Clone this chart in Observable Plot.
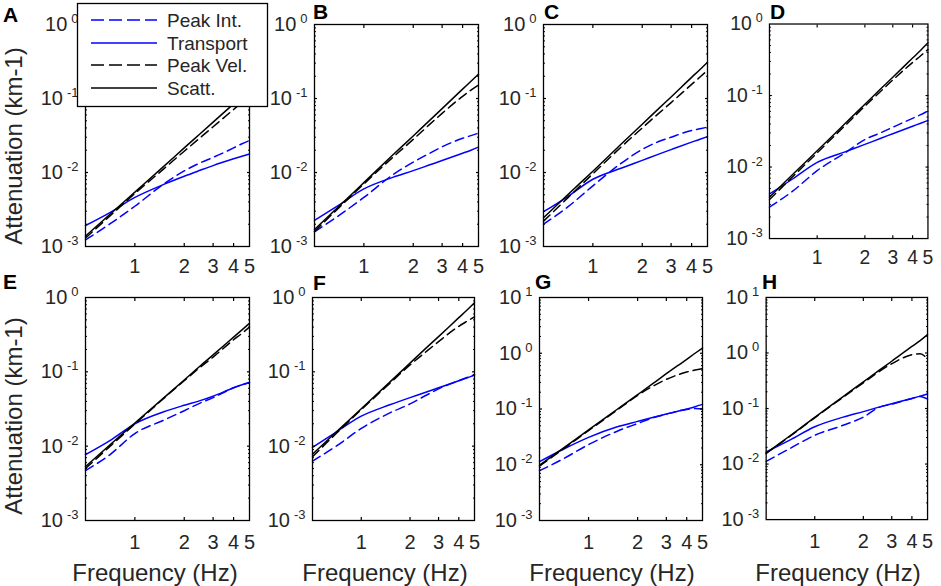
<!DOCTYPE html>
<html><head><meta charset="utf-8">
<script src="https://cdn.jsdelivr.net/npm/d3@7"></script>
<script src="https://cdn.jsdelivr.net/npm/@observablehq/plot@0.6"></script>
<style>
html,body{margin:0;padding:0;background:#fff;overflow:hidden;}
#fig{position:relative;width:941px;height:586px;overflow:hidden;background:#fff;font-family:"Liberation Sans",Arial,sans-serif;}
.panel{position:absolute;}
#overlay{position:absolute;left:0;top:0;z-index:10;pointer-events:none;}
</style></head><body><div id="fig"></div>
<script>
// ---------- data ----------
const freq = [0.5, 0.7, 1, 1.5, 2, 2.5, 3, 4, 4.5, 5];
const panelLabels = ["A","B","C","D","E","F","G","H"];
const seriesNames = ["Peak Int.", "Transport", "Peak Vel.", "Scatt."];
const xTickValues = [1, 2, 3, 4, 5];
const yTopDecade = [1, 1, 1, 1, 1, 1, 10, 10];

const peakInt = [
  [0.00123, 0.0020, 0.0035, 0.0070, 0.0105, 0.0135, 0.0160, 0.0215, 0.0245, 0.0270],
  [0.00158, 0.0026, 0.0046, 0.0093, 0.0138, 0.0180, 0.0222, 0.0290, 0.0315, 0.0340],
  [0.0020, 0.0034, 0.0066, 0.0135, 0.0205, 0.0260, 0.0300, 0.0370, 0.0390, 0.0410],
  [0.00275, 0.0046, 0.0089, 0.0158, 0.0242, 0.0300, 0.0360, 0.0480, 0.0540, 0.0610],
  [0.0047, 0.0076, 0.0148, 0.0224, 0.0300, 0.0380, 0.0450, 0.0610, 0.0670, 0.0720],
  [0.0063, 0.0100, 0.0173, 0.0280, 0.0370, 0.0480, 0.0590, 0.0760, 0.0840, 0.0920],
  [0.0078, 0.0128, 0.0230, 0.0400, 0.0550, 0.0700, 0.0810, 0.0980, 0.1020, 0.1000],
  [0.0112, 0.0190, 0.0330, 0.0500, 0.0700, 0.1050, 0.1200, 0.1520, 0.1650, 0.1480]
];
const transport = [
  [0.00192, 0.00285, 0.0046, 0.0069, 0.0089, 0.0107, 0.0124, 0.0153, 0.0166, 0.0178],
  [0.00225, 0.0036, 0.0060, 0.0086, 0.0106, 0.0126, 0.0145, 0.0182, 0.0200, 0.0220],
  [0.00295, 0.0047, 0.0081, 0.0115, 0.0146, 0.0176, 0.0204, 0.0257, 0.0282, 0.0305],
  [0.0042, 0.0068, 0.0116, 0.0163, 0.0207, 0.0251, 0.0292, 0.0372, 0.0410, 0.0448],
  [0.0077, 0.0118, 0.0200, 0.0290, 0.0355, 0.0410, 0.0470, 0.0610, 0.0670, 0.0720],
  [0.0096, 0.0155, 0.0253, 0.0360, 0.0450, 0.0530, 0.0610, 0.0760, 0.0830, 0.0900],
  [0.0114, 0.0190, 0.0310, 0.0480, 0.0600, 0.0710, 0.0810, 0.1000, 0.1100, 0.1210],
  [0.0165, 0.0270, 0.0470, 0.0700, 0.0880, 0.1060, 0.1220, 0.1520, 0.1670, 0.1830]
];
const peakVel = [
  [0.00130, 0.00255, 0.0052, 0.0112, 0.0194, 0.0295, 0.0415, 0.0710, 0.0880, 0.1050],
  [0.00160, 0.0033, 0.0070, 0.0160, 0.0280, 0.0440, 0.0630, 0.1070, 0.1300, 0.1520],
  [0.0022, 0.0045, 0.0096, 0.0225, 0.0400, 0.0620, 0.0880, 0.1550, 0.1950, 0.2400],
  [0.0035, 0.0073, 0.0158, 0.0380, 0.0710, 0.1130, 0.1650, 0.2900, 0.3600, 0.4400],
  [0.0050, 0.0098, 0.0198, 0.0440, 0.0760, 0.1150, 0.1580, 0.2700, 0.3300, 0.4000],
  [0.0072, 0.0148, 0.0310, 0.0700, 0.1240, 0.1850, 0.2550, 0.4100, 0.4800, 0.5500],
  [0.0095, 0.0192, 0.0410, 0.0960, 0.1760, 0.2600, 0.3400, 0.4600, 0.5000, 0.5300],
  [0.0155, 0.0315, 0.0680, 0.1600, 0.2900, 0.4600, 0.6400, 0.9300, 0.9700, 0.7800]
];
const scatt = [
  [0.00138, 0.00269, 0.00544, 0.0121, 0.0215, 0.0334, 0.0479, 0.0847, 0.107, 0.132],
  [0.00170, 0.00344, 0.0073, 0.0172, 0.0312, 0.0499, 0.0730, 0.134, 0.171, 0.213],
  [0.00245, 0.00497, 0.0104, 0.0246, 0.0449, 0.0719, 0.105, 0.193, 0.246, 0.309],
  [0.0038, 0.00787, 0.0169, 0.0406, 0.0754, 0.122, 0.180, 0.334, 0.430, 0.546],
  [0.0053, 0.0103, 0.0205, 0.0447, 0.0776, 0.120, 0.169, 0.293, 0.367, 0.450],
  [0.0078, 0.0155, 0.0319, 0.0728, 0.131, 0.207, 0.298, 0.536, 0.680, 0.850],
  [0.0098, 0.0198, 0.0424, 0.099, 0.181, 0.290, 0.430, 0.780, 1.00, 1.24],
  [0.0158, 0.0320, 0.0693, 0.164, 0.302, 0.485, 0.710, 1.31, 1.67, 2.14]
];

// ---------- styles & layout ----------
const seriesData = [peakInt, transport, peakVel, scatt];
const seriesColor = ["#0000ff", "#0000ff", "#000000", "#000000"];
const seriesDash = ["9,5", null, "9,5", null];
const FONT = "'Liberation Sans', Arial, sans-serif";
const frames = [
  {l: 85, t: 24, w: 164, h: 222}, {l: 314, t: 24, w: 164, h: 222},
  {l: 543, t: 24, w: 164, h: 222}, {l: 772, t: 24, w: 164, h: 222},
  {l: 85, t: 297, w: 164, h: 223}, {l: 312, t: 297, w: 162, h: 223},
  {l: 539, t: 297, w: 163, h: 223}, {l: 766, t: 297, w: 162, h: 223}
];
const mL = 90, mR = 14, mT = 14, mB = 44;
const fig = document.getElementById("fig");
const svgNS = "http://www.w3.org/2000/svg";

frames.forEach((fr, i) => {
  const rows = [];
  seriesData.forEach((arr, s) => freq.forEach((f, j) => rows.push({f, v: arr[i][j], s})));
  const top = yTopDecade[i];
  const decades = d3.range(-3, Math.round(Math.log10(top)) + 1).map(e => Math.pow(10, e));
  const innerDecades = decades.slice(1, -1);
  const minor = [];
  decades.slice(0, -1).forEach(d => { for (let k = 2; k <= 9; k++) minor.push(d * k); });
  const isBottomRow = i >= 4;
  const marks = [];
  seriesData.forEach((arr, s) => {
    marks.push(Plot.line(rows.filter(d => d.s === s), {
      x: "f", y: "v", stroke: seriesColor[s], strokeWidth: 1.5,
      strokeDasharray: seriesDash[s] || undefined, curve: "monotone-x"
    }));
  });
  const noText = () => "";
  marks.push(
    Plot.axisY({ticks: decades, anchor: "left", tickSize: 0, tickPadding: 7, label: null,
      tickFormat: d => "10^" + Math.round(Math.log10(d)), fontSize: 20, fill: "#262626"}),
    Plot.axisX({ticks: xTickValues, anchor: "bottom", tickSize: 0, tickPadding: isBottomRow ? 14 : 12, label: null,
      tickFormat: d => String(d), fontSize: 20, fill: "#262626"}),
    Plot.axisX({ticks: [1, 2, 3, 4], anchor: "bottom", tickSize: 3, dy: -3, tickFormat: noText, label: null, strokeWidth: 1.2}),
    Plot.axisX({ticks: [1, 2, 3, 4], anchor: "top", tickSize: 3, dy: 3, tickFormat: noText, label: null, strokeWidth: 1.2}),
    Plot.axisY({ticks: innerDecades, anchor: "left", tickSize: 3, dx: 3, tickFormat: noText, label: null, strokeWidth: 1.2}),
    Plot.axisY({ticks: innerDecades, anchor: "right", tickSize: 3, dx: -3, tickFormat: noText, label: null, strokeWidth: 1.2}),
    Plot.axisY({ticks: minor, anchor: "left", tickSize: 2, dx: 2, tickFormat: noText, label: null, strokeWidth: 1}),
    Plot.axisY({ticks: minor, anchor: "right", tickSize: 2, dx: -2, tickFormat: noText, label: null, strokeWidth: 1}),
    Plot.frame({stroke: "#000", strokeWidth: 1.3})
  );
  const chart = Plot.plot({
    width: mL + fr.w + mR, height: mT + fr.h + mB,
    marginLeft: mL, marginRight: mR, marginTop: mT, marginBottom: mB,
    x: {type: "log", domain: [0.5, 5]},
    y: {type: "log", domain: [1e-3, top]},
    style: {background: "transparent", overflow: "visible", fontFamily: FONT, color: "#000"},
    marks
  });
  // superscript exponents for the y tick labels
  chart.querySelectorAll("text").forEach(t => {
    const m = t.textContent.match(/^10\^(-?\d+)$/);
    if (m) {
      t.textContent = "10";
      const ts = document.createElementNS(svgNS, "tspan");
      ts.setAttribute("dx", "4");
      ts.setAttribute("dy", "-8");
      ts.setAttribute("font-size", "13");
      ts.textContent = m[1];
      t.appendChild(ts);
    }
  });
  const wrap = document.createElement("div");
  wrap.className = "panel";
  wrap.style.left = (fr.l - mL) + "px";
  wrap.style.top = (fr.t - mT) + "px";
  wrap.appendChild(chart);
  fig.appendChild(wrap);
});

// ---------- overlay: panel letters, axis titles, legend ----------
const letterPos = [[3, 22], [313, 19], [544, 19], [770, 19], [3, 289], [313, 290], [535, 289], [762, 289]];
const xTitleCenters = [155, 385, 612, 838];
const ov = d3.select(fig).append("svg").attr("id", "overlay").attr("width", 941).attr("height", 586)
  .style("font-family", FONT);
panelLabels.forEach((lab, i) => {
  ov.append("text").attr("x", letterPos[i][0]).attr("y", letterPos[i][1])
    .attr("font-size", 21).attr("font-weight", "bold").attr("fill", "#000").text(lab);
});
[146, 416].forEach(cy => {
  ov.append("text").attr("transform", `translate(22,${cy}) rotate(-90)`)
    .attr("text-anchor", "middle").attr("font-size", 24).attr("fill", "#262626").text("Attenuation (km-1)");
});
xTitleCenters.forEach(cx => {
  ov.append("text").attr("x", cx).attr("y", 581).attr("text-anchor", "middle")
    .attr("font-size", 24).attr("fill", "#262626").text("Frequency (Hz)");
});
// legend
const lg = ov.append("g");
lg.append("rect").attr("x", 77.5).attr("y", 3.5).attr("width", 190).attr("height", 103)
  .attr("fill", "#fff").attr("stroke", "#000").attr("stroke-width", 1.3);
const legendY = [20, 43, 65, 88];
seriesNames.forEach((name, s) => {
  lg.append("line").attr("x1", 91).attr("x2", 157).attr("y1", legendY[s]).attr("y2", legendY[s])
    .attr("stroke", seriesColor[s]).attr("stroke-width", 1.5)
    .attr("stroke-dasharray", seriesDash[s] ? "13,5" : null);
  lg.append("text").attr("x", 167).attr("y", legendY[s] + 7).attr("font-size", 19)
    .attr("fill", "#262626").text(name);
});
</script></body></html>
